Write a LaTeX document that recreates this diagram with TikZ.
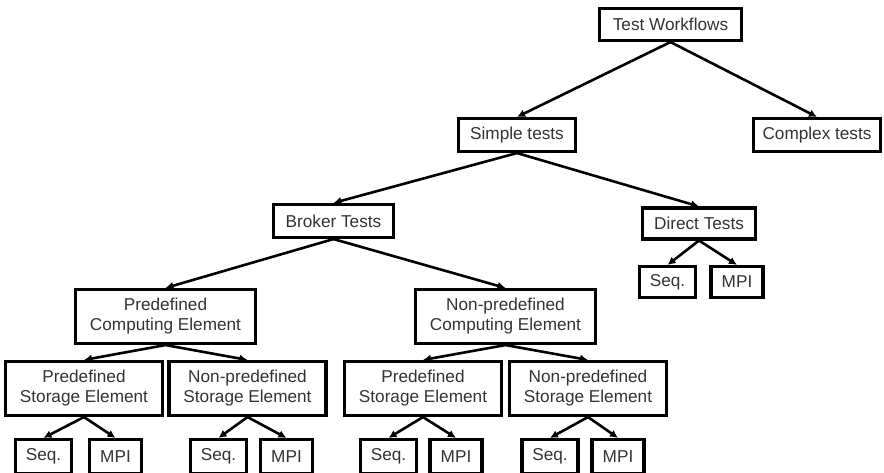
\documentclass[tikz,border=0pt]{standalone}
\usepackage{fontspec}
\setmainfont{Liberation Sans}
\usetikzlibrary{arrows.meta}
\begin{document}
\begin{tikzpicture}[x=1pt,y=-1pt,
  box/.style={draw=black, line width=3.1pt, fill=white, text=black!80,
    font=\fontsize{17.2}{20}\selectfont, align=center, inner sep=0pt},
  wide/.style={minimum width=180pt, minimum height=54pt},
  store/.style={minimum width=157pt, minimum height=54pt},
  seqbox/.style={minimum width=56pt, minimum height=34pt},
  mpibox/.style={minimum width=52pt, minimum height=34pt},
  link/.style={line width=2.6pt, -{Latex[length=8pt,width=8pt]}}]
\useasboundingbox (0,0) rectangle (884,473);

% upper levels
\node[box, minimum width=142pt, minimum height=32pt] (tw) at (670.5,24.5) {Test Workflows};
\node[box, minimum width=117pt, minimum height=33pt] (st) at (517,135) {Simple tests};
\node[box, minimum width=127pt, minimum height=33pt] (ct) at (817,135) {Complex tests};
\node[box, minimum width=120pt, minimum height=33pt] (bt) at (333.5,221) {Broker Tests};
\node[box, minimum width=113pt, minimum height=31pt] (dt) at (699,223.5) {Direct Tests};
\node[box, seqbox, minimum height=31pt] (dseq) at (667.5,282) {Seq.};
\node[box, mpibox, minimum height=31pt] (dmpi) at (737,282) {MPI};

% computing elements
\node[box, wide] (pce) at (165.5,316.5) {Predefined\\Computing Element};
\node[box, wide] (nce) at (505.5,316.5) {Non-predefined\\Computing Element};

% storage elements
\node[box, store] (s1) at (84,388.5) {Predefined\\Storage Element};
\node[box, store] (s2) at (247.5,388.5) {Non-predefined\\Storage Element};
\node[box, store] (s3) at (423,388.5) {Predefined\\Storage Element};
\node[box, store] (s4) at (588,388.5) {Non-predefined\\Storage Element};

% leaves (their lower edge runs off the page)
\node[box, seqbox] (q1) at (43.5,456.5) {Seq.};
\node[box, mpibox] (m1) at (115.5,456.5) {MPI};
\node[box, seqbox] (q2) at (218.5,456.5) {Seq.};
\node[box, mpibox] (m2) at (286.5,456.5) {MPI};
\node[box, seqbox] (q3) at (388.5,456.5) {Seq.};
\node[box, mpibox] (m3) at (456,456.5) {MPI};
\node[box, seqbox] (q4) at (550,456.5) {Seq.};
\node[box, mpibox] (m4) at (618,456.5) {MPI};

% connectors
\draw[link] (tw.south) -- (st.north);
\draw[link] (tw.south) -- (ct.north);
\draw[link] (st.south) -- (bt.north);
\draw[link] (st.south) -- (dt.north);
\draw[link] (dt.south) -- (dseq.north);
\draw[link] (dt.south) -- (dmpi.north);
\draw[link] (bt.south) -- (pce.north);
\draw[link] (bt.south) -- (nce.north);
\draw[link] (pce.south) -- (s1.north);
\draw[link] (pce.south) -- (s2.north);
\draw[link] (nce.south) -- (s3.north);
\draw[link] (nce.south) -- (s4.north);
\draw[link] (s1.south) -- (q1.north);
\draw[link] (s1.south) -- (m1.north);
\draw[link] (s2.south) -- (q2.north);
\draw[link] (s2.south) -- (m2.north);
\draw[link] (s3.south) -- (q3.north);
\draw[link] (s3.south) -- (m3.north);
\draw[link] (s4.south) -- (q4.north);
\draw[link] (s4.south) -- (m4.north);
\end{tikzpicture}
\end{document}
